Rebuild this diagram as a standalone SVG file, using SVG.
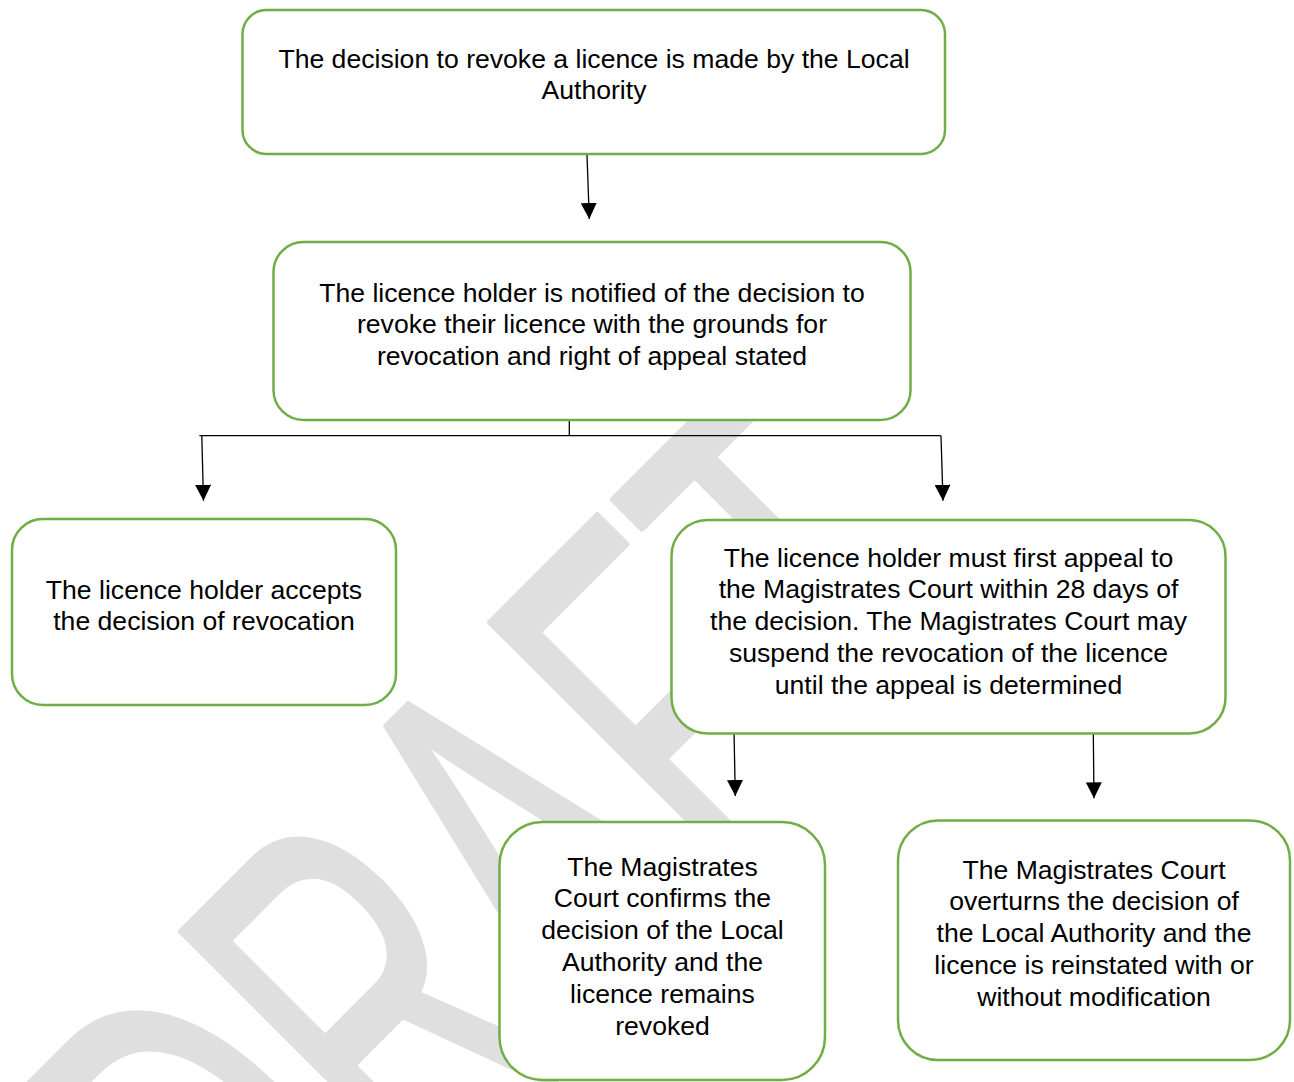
<svg xmlns="http://www.w3.org/2000/svg" width="1294" height="1082" viewBox="0 0 1294 1082">
<style>
.wm{font-family:"Liberation Sans",Arial,sans-serif;fill:#dfdfdf;stroke:#dfdfdf;stroke-width:6;stroke-linejoin:round}
.box{fill:#ffffff;stroke:#70ad47;stroke-width:2.5}
.lbl{font-family:"Liberation Sans",Arial,sans-serif;font-size:26.6px;fill:#000000;text-anchor:middle}
.con{fill:none;stroke:#000000;stroke-width:1.3}
</style>
<defs>
<marker id="arr" markerUnits="userSpaceOnUse" markerWidth="16" markerHeight="16" refX="16" refY="8" orient="auto">
<path d="M0,0 L16,8 L0,16 Z" fill="#000000"/>
</marker>
</defs>
<rect width="1294" height="1082" fill="#ffffff"/>
<text class="wm" transform="translate(263,1373) rotate(-45) scale(0.585,1)" font-size="538">DRAFT</text>
<g id="connectors">
<line class="con" x1="587" y1="155" x2="589.3" y2="219" marker-end="url(#arr)"/>
<line class="con" x1="569.3" y1="419" x2="569.3" y2="435.7"/>
<line class="con" x1="199.4" y1="435.7" x2="941" y2="435.7"/>
<line class="con" x1="201.8" y1="435.7" x2="203.5" y2="500.7" marker-end="url(#arr)"/>
<line class="con" x1="941" y1="435.7" x2="943" y2="500.7" marker-end="url(#arr)"/>
<line class="con" x1="734" y1="731" x2="735.3" y2="796" marker-end="url(#arr)"/>
<line class="con" x1="1093.3" y1="733" x2="1094" y2="798.3" marker-end="url(#arr)"/>
</g>
<g id="n1">
<rect class="box" x="242.5" y="10" width="702.5" height="144" rx="24"/>
<text class="lbl"><tspan x="594" y="67.5">The decision to revoke a licence is made by the Local</tspan><tspan x="594" y="99.3">Authority</tspan></text>
</g>
<g id="n2">
<rect class="box" x="273.5" y="242" width="637" height="178" rx="30"/>
<text class="lbl"><tspan x="592" y="301.5">The licence holder is notified of the decision to</tspan><tspan x="592" y="333.3">revoke their licence with the grounds for</tspan><tspan x="592" y="365.1">revocation and right of appeal stated</tspan></text>
</g>
<g id="n3">
<rect class="box" x="12" y="519" width="384" height="186" rx="31"/>
<text class="lbl"><tspan x="204" y="598.5">The licence holder accepts</tspan><tspan x="204" y="630.3">the decision of revocation</tspan></text>
</g>
<g id="n4">
<rect class="box" x="671.5" y="520" width="554" height="213.5" rx="36"/>
<text class="lbl"><tspan x="948.5" y="566.5">The licence holder must first appeal to</tspan><tspan x="948.5" y="598.3">the Magistrates Court within 28 days of</tspan><tspan x="948.5" y="630.1">the decision. The Magistrates Court may</tspan><tspan x="948.5" y="661.9">suspend the revocation of the licence</tspan><tspan x="948.5" y="693.7">until the appeal is determined</tspan></text>
</g>
<g id="n5">
<rect class="box" x="499.5" y="822" width="325.5" height="258" rx="43"/>
<text class="lbl"><tspan x="662.5" y="875.5">The Magistrates</tspan><tspan x="662.5" y="907.3">Court confirms the</tspan><tspan x="662.5" y="939.1">decision of the Local</tspan><tspan x="662.5" y="970.9">Authority and the</tspan><tspan x="662.5" y="1002.7">licence remains</tspan><tspan x="662.5" y="1034.5">revoked</tspan></text>
</g>
<g id="n6">
<rect class="box" x="898" y="820.5" width="392" height="239.5" rx="40"/>
<text class="lbl"><tspan x="1094" y="878.5">The Magistrates Court</tspan><tspan x="1094" y="910.3">overturns the decision of</tspan><tspan x="1094" y="942.1">the Local Authority and the</tspan><tspan x="1094" y="973.9">licence is reinstated with or</tspan><tspan x="1094" y="1005.7">without modification</tspan></text>
</g>
</svg>
